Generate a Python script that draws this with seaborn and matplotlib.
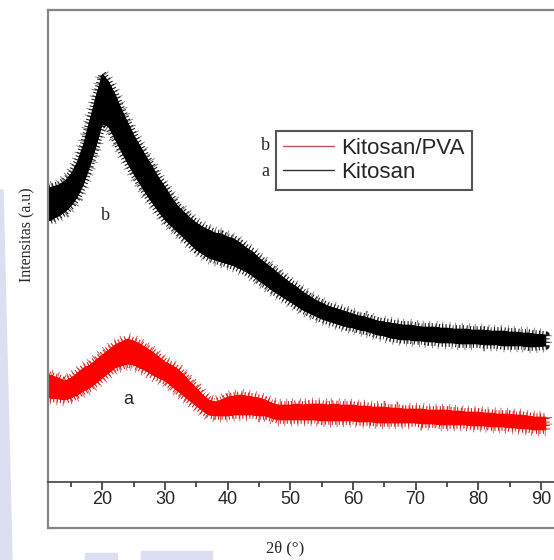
import pandas as pd
import matplotlib.pyplot as plt
import matplotlib.patheffects as pe
from matplotlib.lines import Line2D
from matplotlib.patches import Polygon, Rectangle
import seaborn as sns

# 2theta grid (first/last point sit on the plot edges)
two_theta = list(range(12, 91))
two_theta[0] = 11.4
two_theta[-1] = 90.8

# Kitosan (black trace): upper and lower edge of the noisy band
kitosan_upper = [294, 297, 301, 308, 320, 338, 362, 386, 408, 400,
                 388, 373, 360, 347, 336, 325, 315, 304, 295, 285,
                 276, 270, 264, 259, 255, 252, 249, 248, 245, 243,
                 239, 234, 230, 224, 219, 214, 209, 204, 199, 195,
                 190, 186, 182, 179, 176, 174, 172, 170, 168, 166,
                 165, 163, 161, 160, 159, 158, 157, 157, 156, 155,
                 155, 155, 154, 154, 153, 153, 153, 152, 152, 152,
                 151, 151, 151, 150, 150, 149, 149, 148, 147]
kitosan_lower = [261, 266, 270, 276, 285, 298, 316, 336, 359, 355,
                 343, 331, 319, 308, 298, 288, 279, 270, 262, 256,
                 250, 244, 238, 232, 228, 224, 222, 220, 218, 216,
                 213, 210, 206, 201, 197, 192, 188, 184, 180, 176,
                 172, 169, 166, 163, 161, 159, 157, 155, 154, 152,
                 151, 149, 147, 146, 144, 143, 142, 142, 141, 141,
                 140, 140, 139, 139, 139, 138, 138, 138, 138, 137,
                 137, 137, 136, 136, 136, 136, 135, 135, 136]

# Kitosan/PVA (red trace)
pva_upper = [107, 104, 101, 104, 109, 114, 117, 122, 127, 132,
             137, 140, 143, 141, 138, 134, 130, 125, 120, 117,
             113, 107, 100, 94, 87, 82, 80, 82, 85, 86,
             87, 86, 85, 84, 82, 79, 77, 77, 77, 78,
             77, 78, 78, 78, 77, 78, 77, 77, 77, 76,
             76, 75, 75, 75, 74, 74, 73, 73, 73, 73,
             72, 72, 72, 72, 71, 71, 70, 70, 70, 69,
             69, 68, 68, 68, 67, 67, 66, 65, 65]
pva_lower = [84, 83, 82, 84, 87, 91, 94, 99, 104, 109,
             114, 116, 118, 117, 114, 111, 107, 104, 101, 96,
             91, 86, 81, 76, 71, 67, 66, 66, 66, 67,
             67, 67, 67, 66, 66, 64, 62, 62, 62, 62,
             62, 62, 62, 61, 61, 61, 61, 61, 61, 60,
             60, 60, 59, 59, 59, 59, 59, 59, 59, 58,
             58, 58, 57, 57, 57, 57, 57, 56, 56, 56,
             55, 55, 55, 54, 54, 53, 53, 52, 52]

series_names = ['Kitosan/PVA', 'Kitosan']
series_colors = {'Kitosan/PVA': '#ff0000', 'Kitosan': '#000000'}
spike_colors = {'Kitosan/PVA': ('#e02020', '#c85050'),
                'Kitosan': ('#1a1a1a', '#707070')}

parts = []
for name, lo, hi in [('Kitosan', kitosan_lower, kitosan_upper),
                     ('Kitosan/PVA', pva_lower, pva_upper)]:
    parts.append(pd.DataFrame({'2theta': two_theta * 2,
                               'intensitas': lo + hi,
                               'sampel': name}))
df = pd.concat(parts, ignore_index=True)

sns.set_style('white')
plt.rcParams['font.family'] = ['Liberation Sans', 'DejaVu Sans']

W, H = 554, 560
fig = plt.figure(figsize=(W / 100, H / 100), dpi=100)

# bottom strip of the frame (below the x axis)
ax_box = fig.add_axes([48 / W, 32 / H, 1 - 48 / W, 46 / H])
ax_box.set_xticks([])
ax_box.set_yticks([])
ax_box.patch.set_alpha(0)
for s in ['top', 'right']:
    ax_box.spines[s].set_visible(False)
for s in ['left', 'bottom']:
    ax_box.spines[s].set_color('#858585')
    ax_box.spines[s].set_linewidth(1.6)

ax = fig.add_axes([48 / W, 78 / H, 1 - 48 / W, 472 / H])
sns.lineplot(data=df, x='2theta', y='intensitas', hue='sampel',
             hue_order=series_names, palette=series_colors,
             errorbar=('pi', 100), err_kws={'alpha': 1, 'linewidth': 0.5},
             linewidth=0.8, legend=False, ax=ax)

# noisy spikes along the band edges (dashed thick outline strokes)
for coll, name in zip(ax.collections, series_names):
    inner, outer = spike_colors[name]
    coll.set_path_effects([
        pe.Stroke(linewidth=9, foreground=outer,
                  dashes={'dash_offset': 0.9, 'dash_list': [0.6, 4.1]}),
        pe.Stroke(linewidth=5.5, foreground=inner,
                  dashes={'dash_offset': 0, 'dash_list': [0.8, 1.7]}),
        pe.Normal()])

ax.set_xlim(11.3, 92.1)
ax.set_ylim(0, 472)
ax.set_yticks([])
ax.set_xticks([20, 30, 40, 50, 60, 70, 80, 90])
ax.set_xticks([15, 25, 35, 45, 55, 65, 75, 85], minor=True)
ax.tick_params(axis='x', which='major', direction='out', length=6, width=1.2,
               color='#333333', labelsize=13, pad=0.5, bottom=True)
ax.tick_params(axis='x', which='minor', direction='out', length=3.5,
               width=1.2, color='#333333', bottom=True)
ax.set_xlabel('')
ax.set_ylabel('')
ax.spines['right'].set_visible(False)
for s in ['top', 'left']:
    ax.spines[s].set_color('#858585')
    ax.spines[s].set_linewidth(1.6)
ax.spines['bottom'].set_color('#404040')
ax.spines['bottom'].set_linewidth(1.2)

# curve tags
ax.text(20.4, 267, 'b', family='Liberation Serif', fontsize=13,
        ha='center', va='center')
ax.text(24.1, 82, 'a', family='Liberation Sans', fontsize=13,
        ha='center', va='center')

# legend
handles = [Line2D([], [], color='#c0504d', lw=1.0),
           Line2D([], [], color='#333333', lw=1.0)]
leg = ax.legend(handles, series_names, loc='upper left',
                bbox_to_anchor=(276 / W, 1 - 131 / H),
                bbox_transform=fig.transFigure, borderaxespad=0,
                frameon=True, fancybox=False, framealpha=1,
                edgecolor='#555555', borderpad=0.3, handlelength=2.3,
                handletextpad=0.35, labelspacing=0.15,
                prop={'family': 'Liberation Sans', 'size': 16})
leg.get_frame().set_linewidth(1.5)
fig.text(265 / W, 1 - 146 / H, 'b', family='Liberation Serif', fontsize=13,
         ha='center', va='center')
fig.text(265 / W, 1 - 172 / H, 'a', family='Liberation Serif', fontsize=13,
         ha='center', va='center')

# axis titles
fig.text(285 / W, 1 - 548 / H, '2θ (°)', family='Liberation Serif',
         fontsize=12, ha='center', va='center')
fig.text(27 / W, 1 - 235 / H, 'Intensitas (a.u)', family='Liberation Serif',
         fontsize=11.5, rotation=90, ha='center', va='center')

# pale page background showing at the left and bottom edges
lav = '#dcdff2'
fig.patches.append(Polygon([(0, 0), (12 / W, 0), (3 / W, 1 - 190 / H),
                            (0, 1 - 190 / H)], closed=True,
                           transform=fig.transFigure, color=lav, zorder=-1))
fig.patches.append(Rectangle((85 / W, 0), 32 / W, 7 / H,
                             transform=fig.transFigure, color=lav, zorder=-1))
fig.patches.append(Rectangle((141 / W, 0), 71 / W, 9 / H,
                             transform=fig.transFigure, color=lav, zorder=-1))

fig.savefig('out.png', dpi=100)
